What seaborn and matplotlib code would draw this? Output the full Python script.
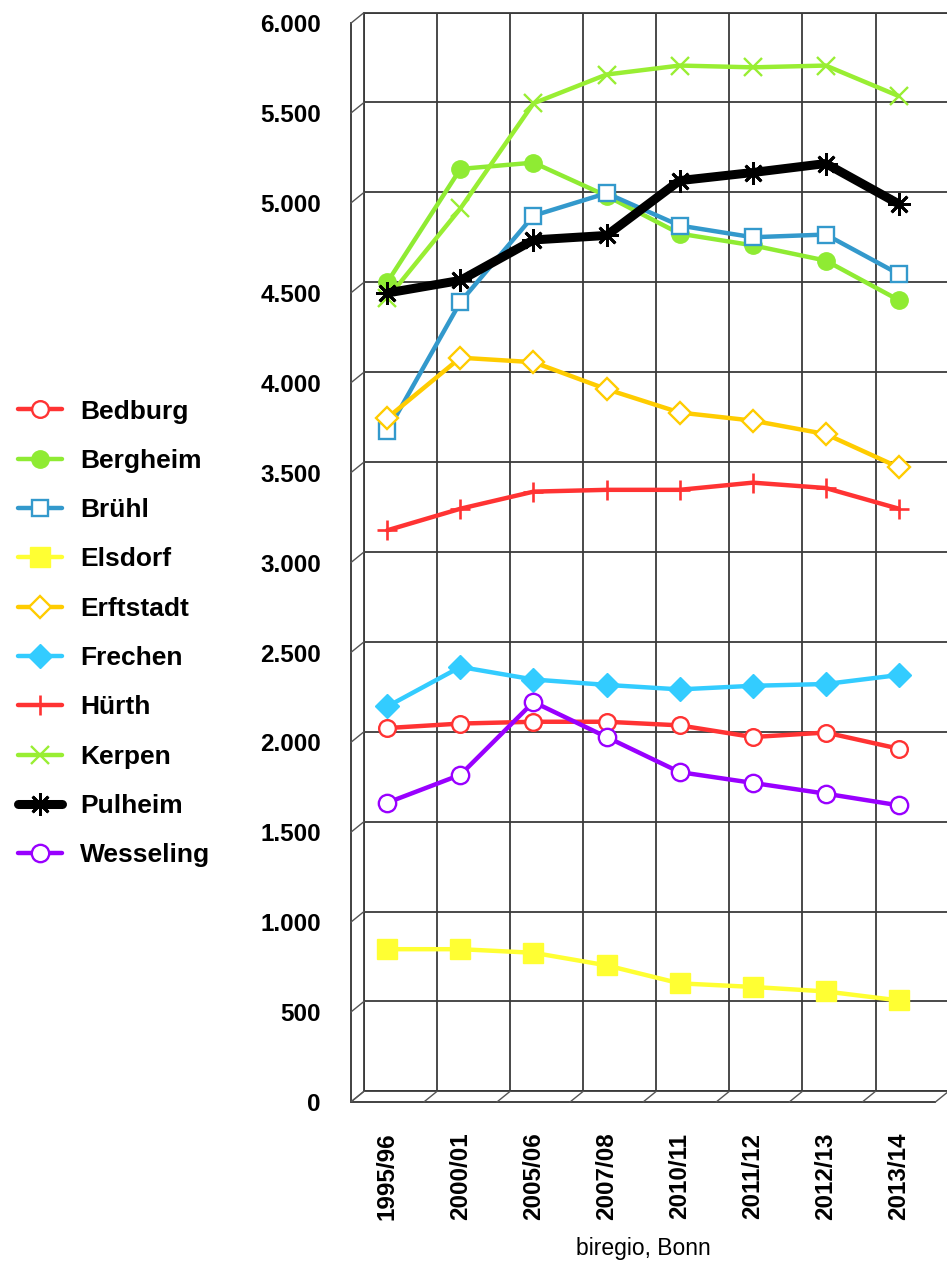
import numpy as np
import pandas as pd
import matplotlib
matplotlib.use("Agg")
import matplotlib.pyplot as plt
import matplotlib.ticker as mticker
import seaborn as sns

years = ['1995/96', '2000/01', '2005/06', '2007/08', '2010/11', '2011/12', '2012/13', '2013/14']

bedburg = [2080, 2105, 2115, 2115, 2095, 2030, 2055, 1965]
bergheim = [4560, 5190, 5225, 5040, 4830, 4765, 4680, 4460]
bruehl = [3730, 4450, 4930, 5055, 4875, 4810, 4825, 4605]
elsdorf = [850, 850, 830, 760, 660, 640, 615, 565]
erftstadt = [3805, 4140, 4115, 3965, 3835, 3790, 3715, 3530]
frechen = [2200, 2420, 2350, 2320, 2295, 2315, 2325, 2375]
huerth = [3180, 3300, 3395, 3405, 3405, 3445, 3415, 3300]
kerpen = [4470, 4970, 5555, 5715, 5765, 5755, 5765, 5595]
pulheim = [4500, 4570, 4795, 4820, 5125, 5170, 5220, 4995]
wesseling = [1665, 1820, 2225, 2030, 1835, 1775, 1715, 1650]

series = {
    'Bedburg': bedburg,
    'Bergheim': bergheim,
    'Brühl': bruehl,
    'Elsdorf': elsdorf,
    'Erftstadt': erftstadt,
    'Frechen': frechen,
    'Hürth': huerth,
    'Kerpen': kerpen,
    'Pulheim': pulheim,
    'Wesseling': wesseling,
}

# color, marker, marker face, marker size, marker edge width, line width
styles = {
    'Bedburg':   ('#FF3333', 'o', 'white', 12, 1.7, 3.2),
    'Bergheim':  ('#8FEB33', 'o', None, 12.5, 1.0, 3.2),
    'Brühl':     ('#3399CC', 's', 'white', 12, 1.7, 3.2),
    'Elsdorf':   ('#FFFF33', 's', None, 14, 1.0, 3.2),
    'Erftstadt': ('#FFCC00', 'D', 'white', 11, 1.7, 3.2),
    'Frechen':   ('#33CCFF', 'D', None, 12, 1.0, 3.2),
    'Hürth':     ('#FF3333', '+', None, 14, 1.9, 3.2),
    'Kerpen':    ('#99EE33', 'x', None, 13, 1.7, 3.2),
    'Pulheim':   ('#000000', (8, 2, 0), None, 16, 2.0, 6.5),
    'Wesseling': ('#9900FF', 'o', 'white', 12.5, 1.7, 3.2),
}

df = pd.DataFrame([
    {'pos': i, 'year': y, 'city': c, 'value': v}
    for c, vals in series.items() for i, (y, v) in enumerate(zip(years, vals))
])

sns.set_theme(style='white')
plt.rcParams['font.family'] = ['Liberation Sans', 'DejaVu Sans']
plt.rcParams['text.color'] = 'black'
plt.rcParams['axes.labelcolor'] = 'black'
plt.rcParams['xtick.color'] = 'black'
plt.rcParams['ytick.color'] = 'black'

W, H = 947, 1264
fig = plt.figure(figsize=(W / 100, H / 100), dpi=100)

# front frame (axis with ticks) and back wall shifted up/right (pseudo 3D)
left, right, top, bottom = 350.8, 935.4, 23.3, 1102.0
dx, dy = 13.2, 10.7
rect_w, rect_h = (right - left) / W, (bottom - top) / H
ax_back = fig.add_axes([(left + dx) / W, (H - bottom + dy) / H, rect_w, rect_h])
ax = fig.add_axes([left / W, (H - bottom) / H, rect_w, rect_h])
ax.patch.set_alpha(0)

n = len(years)
bounds = np.arange(-0.5, n, 1.0)
yticks = np.arange(0, 6001, 500)

for a in (ax_back, ax):
    a.set_xlim(-0.5, n - 0.5)
    a.set_ylim(0, 6000)

ax_back.set_xticks(bounds)
ax_back.set_yticks(yticks)
ax_back.tick_params(length=0, labelleft=False, labelbottom=False)
ax_back.grid(True, color='#3a3a3a', lw=1.3)
for s in ax_back.spines.values():
    s.set_color('#3a3a3a')
    s.set_linewidth(1.3)

for city, vals in series.items():
    color, marker, face, ms, mew, lw = styles[city]
    sns.lineplot(data=df[df.city == city], x='pos', y='value', ax=ax, label=city,
                 color=color, marker=marker, markersize=ms, markeredgewidth=mew,
                 markerfacecolor=face if face else color, markeredgecolor=color,
                 linewidth=lw, clip_on=False, zorder=3)

ax.get_legend().remove()

ax.set_xticks(range(n))
ax.set_xticklabels(years, rotation=90, fontsize=17.5, fontweight='bold', va='top')
ax.set_xticks(bounds, minor=True)
ax.tick_params(axis='x', which='major', length=0, pad=22)
ax.tick_params(axis='x', which='minor', direction='out', length=7.5, width=1.2, color='#333333')
ax.set_yticks(yticks)
ax.yaxis.set_major_formatter(mticker.FuncFormatter(lambda v, p: f'{int(v):,}'.replace(',', '.')))
ax.tick_params(axis='y', direction='inout', length=12, width=1.2, color='#333333', pad=15.5,
               labelsize=17.5)
for lab in ax.get_yticklabels():
    lab.set_fontweight('bold')
ax.set_xlabel('biregio, Bonn', fontsize=16.5, labelpad=12)
ax.set_ylabel('')
sns.despine(ax=ax, top=True, right=True)
for s in ('left', 'bottom'):
    ax.spines[s].set_color('#333333')
    ax.spines[s].set_linewidth(1.3)

# little diagonals joining front ticks to the back wall
for v in yticks:
    ax.annotate('', xy=(-0.5, v), xycoords=ax_back.transData,
                xytext=(-0.5, v), textcoords=ax.transData, annotation_clip=False,
                arrowprops=dict(arrowstyle='-', color='#555555', lw=1.0, shrinkA=0, shrinkB=0))
for b in bounds:
    ax.annotate('', xy=(b, 0), xycoords=ax_back.transData,
                xytext=(b, 0), textcoords=ax.transData, annotation_clip=False,
                arrowprops=dict(arrowstyle='-', color='#555555', lw=1.0, shrinkA=0, shrinkB=0))

handles, labels = ax.get_legend_handles_labels()
fig.legend(handles, labels, loc='center left', bbox_to_anchor=(18 / W, 1 - 633.5 / H),
           frameon=False, prop=dict(family=['Liberation Sans', 'DejaVu Sans'], weight='bold', size=19),
           handlelength=1.67, handletextpad=0.68, labelspacing=0.96,
           borderpad=0, borderaxespad=0)

fig.savefig('out.png', dpi=100, facecolor='white')
